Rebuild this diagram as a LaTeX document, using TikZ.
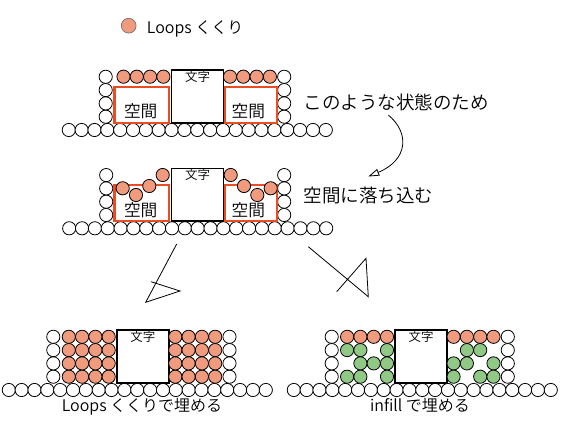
\documentclass[tikz,border=0pt]{standalone}
\usepackage{fontspec}
\setmainfont{Noto Sans CJK JP DemiLight}
\usetikzlibrary{positioning,arrows.meta}
\definecolor{kukuri}{RGB}{241,155,126}
\definecolor{infill}{RGB}{143,201,133}
\definecolor{gapred}{RGB}{234,76,36}

\begin{document}
\begin{tikzpicture}[x=1pt,y=-1pt,
   bead/.style={draw=black,line width=0.8pt,fill=white},
   kbead/.style={draw=black,line width=0.8pt,fill=kukuri},
   gbead/.style={draw=black,line width=0.8pt,fill=infill},
   gapline/.style={draw=gapred,line width=2.2pt},
   mojibox/.style={draw,line width=1.6pt,fill=white,anchor=north west,inner sep=0pt,minimum width=52pt,text height=11pt,text depth=41.5pt,font=\fontsize{12.5}{13}\selectfont},
   gaptext/.style={anchor=base,inner sep=0pt,font=\fontsize{16.7}{17}\selectfont},
   bigtext/.style={anchor=base west,inner sep=0pt,font=\fontsize{18.5}{19}\selectfont},
   captext/.style={anchor=base,inner sep=0pt,font=\fontsize{16}{17}\selectfont},
   pen/.style={line width=0.8pt}]

   \fill[white] (0,0) rectangle (566,427);
   \useasboundingbox (0,0) rectangle (566,427);

   % legend
   \fill[kukuri,draw=black!60,line width=0.6pt] (128.7,25.7) circle (7.4);
   \node[anchor=base west,inner sep=0pt,font=\fontsize{16}{17}\selectfont] (legend) at (146.7,33.3) {Loops くくり};

   % walls and text boxes
   \foreach \X/\Y/\B/\L [count=\i] in {170.7/130/-101.9/-65, 170.7/228.3/-101.5/-64.5, 116/390/-107.2/-62.7, 394.3/390/-100.5/-62.6}{
      \begin{scope}[shift={(\X,\Y)}]
         \foreach \k in {0,...,20}
            \draw[bead] (\B+12.85*\k,0) circle (6.6);
         \foreach \j in {1,...,4}{
            \draw[bead] (\L,-13.3*\j) circle (6.6);
            \draw[bead] (113.5,-13.3*\j) circle (6.6);
         }
         \node[mojibox] (moji\i) at (0,-60.5) {文字};
      \end{scope}
   }

   % top: loops on the roof
   \begin{scope}[shift={(170.7,130)}]
      \draw[gapline] (-56.3,-42.7) rectangle (-2,-6.9);
      \draw[gapline] (54,-42.7) rectangle (106.5,-6.9);
      \node[gaptext] (gapA) at (-30,-12) {空間};
      \node[gaptext] (gapB) at (77.6,-12) {空間};
      \foreach \i in {0,...,3}{
         \draw[kbead] (-47.2+13.3*\i,-53.3) circle (6.6);
         \draw[kbead] (59.3+13.3*\i,-53.3) circle (6.6);
      }
   \end{scope}

   % middle: loops fall in
   \begin{scope}[shift={(170.7,228.3)}]
      \draw[gapline] (-56.3,-43.3) rectangle (-2,-6.9);
      \draw[gapline] (54,-43.3) rectangle (106.5,-6.9);
      \node[gaptext] (gapC) at (-30,-12) {空間};
      \node[gaptext] (gapD) at (77.6,-12) {空間};
      \foreach \bx/\by in {-48/-40, -34.7/-33.3, -21.4/-42.3, -8/-53.3, 60/-53.3, 73.3/-42.3, 86.6/-33.3, 100/-40}
         \draw[kbead] (\bx,\by) circle (6.6);
   \end{scope}

   % bottom left: all loops
   \begin{scope}[shift={(116,390)}]
      \foreach \j in {1,...,4}
         \foreach \i in {0,...,3}{
            \draw[kbead] (-47.2+13.3*\i,-13.3*\j) circle (6.6);
            \draw[kbead] (59.3+13.3*\i,-13.3*\j) circle (6.6);
         }
   \end{scope}

   % bottom right: infill
   \begin{scope}[shift={(394.3,390)}]
      \foreach \i in {0,...,3}{
         \draw[kbead] (-47.2+13.3*\i,-53.2) circle (6.6);
         \draw[kbead] (59.3+13.3*\i,-53.2) circle (6.6);
      }
      \foreach \i/\j in {0/3,1/3,3/3, 1/2,2/2,3/2, 0/1,1/1,3/1}
         \draw[gbead] (-47.2+13.3*\i,-13.3*\j) circle (6.6);
      \foreach \i/\j in {1/3,2/3, 0/2,1/2,3/2, 0/1,2/1,3/1}
         \draw[gbead] (59.3+13.3*\i,-13.3*\j) circle (6.6);
   \end{scope}

   % notes
   \node[bigtext] (state) at (303.3,109.3) {このような状態のため};
   \node[bigtext] (fall) at (303.3,202.3) {空間に落ち込む};
   \node[captext] (capL) at (142,411.7) {Loops くくりで埋める};
   \node[captext] (capR) at (420,411.7) {infill で埋める};

   \coordinate (curveA) at (388.3,115);
   \coordinate (curveB) at (368.3,176.5);
   \draw[pen,-{Triangle[open,length=11pt,width=7pt]}] (curveA) .. controls (410,133) and (408,160) .. (curveB);

   % hand drawn arrows
   \coordinate (fromL) at (176.7,244);
   \coordinate (tipL) at (145.7,302.3);
   \draw[pen] (fromL) -- (tipL) -- (180,291) -- (151,281.7);
   \coordinate (fromR) at (308.3,246.7);
   \coordinate (tipR) at (368.3,296.7);
   \draw[pen] (fromR) -- (tipR) -- (366,258.3) -- (336.7,291.7);
\end{tikzpicture}
\end{document}
